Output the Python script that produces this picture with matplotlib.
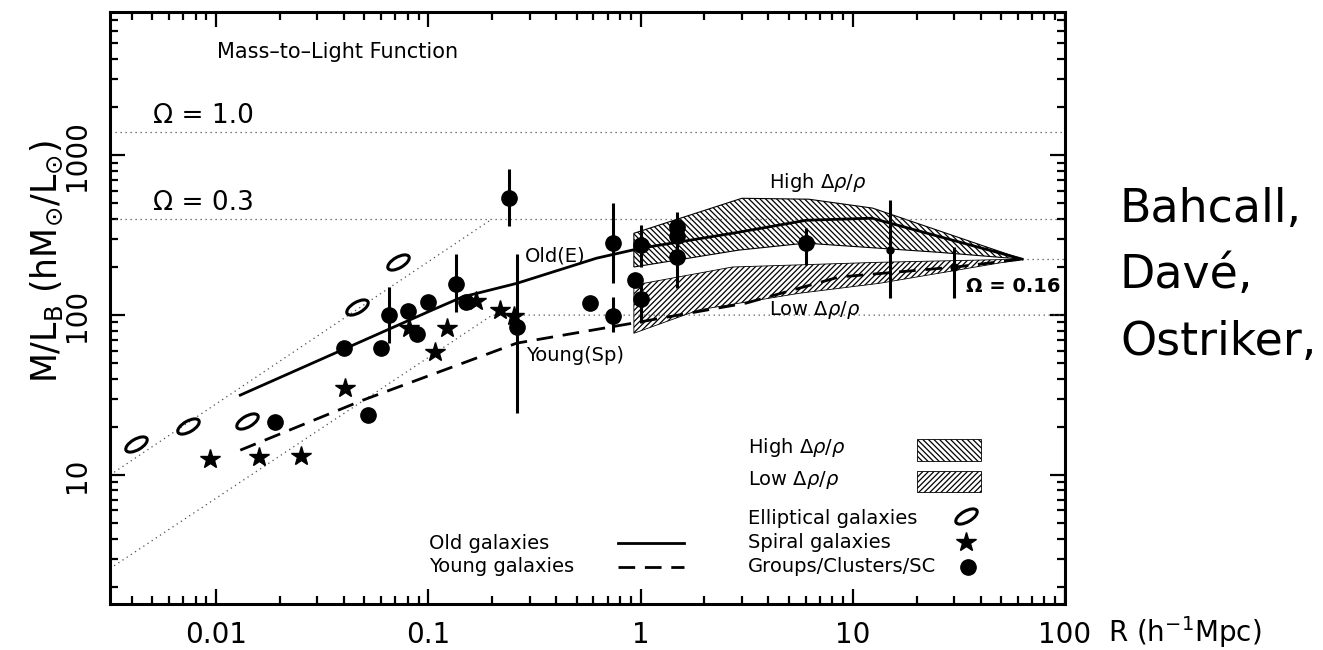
import numpy as np
import matplotlib.pyplot as plt
from matplotlib.path import Path
from matplotlib.patches import Polygon, Rectangle
from matplotlib.transforms import Affine2D
from matplotlib.ticker import LogLocator, NullFormatter, FixedLocator

plt.rcParams['hatch.linewidth'] = 0.9
plt.rcParams['mathtext.fontset'] = 'dejavusans'

# elliptical galaxies
ell_R = [0.0042, 0.0074, 0.0140, 0.046, 0.072]
ell_ML = [15.6, 20.2, 21.8, 112, 214]

# spiral galaxies
sp_R = [0.0094, 0.0159, 0.0251, 0.0405, 0.081, 0.108, 0.122, 0.167, 0.217, 0.252]
sp_ML = [12.6, 13.0, 13.2, 35, 83, 58.7, 83, 122, 107, 98.6]

# groups / clusters / superclusters (lo == hi == ML means no error bar)
grp_R = [0.019, 0.040, 0.052, 0.060, 0.065, 0.080, 0.088, 0.100, 0.135, 0.150,
         0.239, 0.261, 0.58, 0.74, 0.74, 0.94, 1.0, 1.0, 1.49, 1.49, 1.49, 6.0]
grp_ML = [21.4, 62, 23.7, 62, 100, 106, 76, 120, 156, 120,
          538, 84, 119, 282, 99, 166, 274, 126, 355, 312, 230, 282]
grp_lo = [21.4, 62, 23.7, 62, 67, 106, 76, 120, 104, 120,
          360, 24.4, 119, 158, 78, 166, 200, 89, 355, 312, 148, 205]
grp_hi = [21.4, 62, 23.7, 62, 150, 106, 76, 120, 240, 120,
          818, 240, 119, 501, 130, 166, 365, 160, 355, 312, 440, 350]

# large-scale points (small symbols)
ls_R = [15.0, 30.0]
ls_ML = [255, 200]
ls_lo = [128, 128]
ls_hi = [524, 266]

# model curves
old_R = [0.013, 0.1016, 0.145, 0.261, 0.62, 1.0, 2.71, 6.04, 12.3, 62.8]
old_ML = [31.6, 106, 130, 158, 227, 262, 325, 392, 404, 224]
young_R = [0.013, 0.0492, 0.261, 0.917, 3.15, 8.6, 30.6, 62.8]
young_ML = [14.3, 29.4, 66.8, 89, 119, 173, 200, 224]

# hatched bands
high_up_R = [0.93, 3.0, 6.2, 12.4, 62.8]
high_up_ML = [325, 538, 531, 467, 224]
high_lo_R = [0.93, 2.9, 6.0, 25.5, 62.8]
high_lo_ML = [200, 255, 282, 247, 224]
low_up_R = [0.93, 2.71, 13.3, 62.8]
low_up_ML = [154, 200, 214, 224]
low_lo_R = [0.93, 1.89, 5.6, 13.3, 62.8]
low_lo_ML = [77, 108, 137, 158, 224]

# envelope (dotted) lines
omega_ML = [1400, 400]
env_up_R = [10**-2.5, 0.2]
env_up_ML = [10, 400]
env_lo_R = [10**-2.5, 0.2, 100]
env_lo_ML = [2.6, 100, 100]
om16_R = [62.8, 100]
om16_ML = [224, 224]

fig = plt.figure(figsize=(13.23, 6.5), dpi=100)
ax = fig.add_axes([110/1323, 46/650, 955/1323, 592/650])
ax.set_xscale('log')
ax.set_yscale('log')
ax.set_xlim(10**-2.5, 100)
ax.set_ylim(1.56, 7870)

dot = dict(color='0.3', lw=0.9, ls=(0, (1, 3)))
for m in omega_ML:
    ax.axhline(m, **dot)
ax.plot(env_up_R, env_up_ML, **dot)
ax.plot(env_lo_R, env_lo_ML, **dot)
ax.plot(om16_R, om16_ML, **dot)

# hatched bands
high = Polygon(np.column_stack([high_up_R + high_lo_R[::-1], high_up_ML + high_lo_ML[::-1]]),
               facecolor='none', edgecolor='black', lw=0.8, hatch='\\' * 6)
low = Polygon(np.column_stack([low_up_R + low_lo_R[::-1], low_up_ML + low_lo_ML[::-1]]),
              facecolor='none', edgecolor='black', lw=0.6, hatch='/' * 6)
ax.add_patch(high)
ax.add_patch(low)

ax.plot(old_R, old_ML, color='black', lw=2.0)
ax.plot(young_R, young_ML, color='black', lw=2.0, ls=(0, (6, 3.5)))

ell_marker = Path.unit_circle().transformed(Affine2D().scale(1.0, 0.45).rotate_deg(30))
ax.plot(ell_R, ell_ML, ls='none', marker=ell_marker, ms=16, mfc='none', mec='black', mew=2.2)
ax.plot(sp_R, sp_ML, ls='none', marker='*', ms=15, color='black')

grp_ML_a = np.array(grp_ML)
yerr = [grp_ML_a - np.array(grp_lo), np.array(grp_hi) - grp_ML_a]
ax.errorbar(grp_R, grp_ML, yerr=yerr, fmt='o', ms=11, color='black', elinewidth=2.2, capsize=0)
ls_ML_a = np.array(ls_ML)
ax.errorbar(ls_R, ls_ML, yerr=[ls_ML_a - np.array(ls_lo), np.array(ls_hi) - ls_ML_a],
            fmt='o', ms=5, color='black', elinewidth=2.2, capsize=0)

# labels inside the plot
ax.text(0.0101, 4400, 'Mass\u2013to\u2013Light Function', fontsize=15, va='center')
ax.text(0.00505, 1750, '\u03a9 = 1.0', fontsize=19, va='center')
ax.text(0.00505, 500, '\u03a9 = 0.3', fontsize=19, va='center')
ax.text(4.05, 678, r'High $\Delta\rho/\rho$', fontsize=14, va='center')
ax.text(4.05, 107, r'Low $\Delta\rho/\rho$', fontsize=14, va='center')
ax.text(34.2, 150, '\u03a9 = 0.16', fontsize=14, va='center', fontweight='bold')
ax.text(0.284, 234, 'Old(E)', fontsize=14, va='center')
ax.text(0.288, 56, 'Young(Sp)', fontsize=14, va='center')

# legend drawn by hand (axes fraction)
tr = ax.transAxes
ax.text(0.668, 0.265, r'High $\Delta\rho/\rho$', fontsize=14, va='center', transform=tr)
ax.text(0.668, 0.209, r'Low $\Delta\rho/\rho$', fontsize=14, va='center', transform=tr)
ax.add_patch(Rectangle((0.845, 0.2416), 0.067, 0.037, transform=tr, facecolor='none',
                       edgecolor='black', lw=0.6, hatch='\\' * 6))
ax.add_patch(Rectangle((0.845, 0.1892), 0.067, 0.035, transform=tr, facecolor='none',
                       edgecolor='black', lw=0.6, hatch='/' * 6))
leg_labels = ['Elliptical galaxies', 'Spiral galaxies', 'Groups/Clusters/SC']
leg_y = [0.1436, 0.1047, 0.0625]
for lab, yy in zip(leg_labels, leg_y):
    ax.text(0.668, yy, lab, fontsize=14, va='center', transform=tr)
ax.plot([0.896], [leg_y[0] + 0.005], transform=tr, marker=ell_marker, ms=16, mfc='none',
        mec='black', mew=2.2, ls='none')
ax.plot([0.896], [leg_y[1]], transform=tr, marker='*', ms=15, color='black', ls='none')
ax.plot([0.898], [leg_y[2]], transform=tr, marker='o', ms=11, color='black', ls='none')

ax.text(0.334, 0.103, 'Old galaxies', fontsize=14, va='center', transform=tr)
ax.text(0.334, 0.0625, 'Young galaxies', fontsize=14, va='center', transform=tr)
ax.plot([0.532, 0.601], [0.103, 0.103], transform=tr, color='black', lw=2.0)
ax.plot([0.532, 0.601], [0.0625, 0.0625], transform=tr, color='black', lw=2.0, ls=(0, (6, 3.5)))

# axes styling
for s in ax.spines.values():
    s.set_linewidth(2.2)
ax.xaxis.set_major_locator(FixedLocator([0.01, 0.1, 1, 10, 100]))
ax.set_xticklabels(['0.01', '0.1', '1', '10', '100'])
ax.yaxis.set_major_locator(FixedLocator([10, 100, 1000]))
ax.set_yticklabels(['10', '100', '1000'], rotation=90, va='center')
ax.xaxis.set_minor_locator(LogLocator(base=10, subs=np.arange(2, 10)))
ax.yaxis.set_minor_locator(LogLocator(base=10, subs=np.arange(2, 10)))
ax.xaxis.set_minor_formatter(NullFormatter())
ax.yaxis.set_minor_formatter(NullFormatter())
ax.tick_params(which='both', direction='in', top=True, right=True, width=1.6)
ax.tick_params(which='major', length=11)
ax.tick_params(which='minor', length=6)
ax.tick_params(axis='x', which='major', labelsize=20, pad=12)
ax.tick_params(axis='y', which='major', labelsize=20, pad=14)

fig.text(47/1323, 1 - 262/650, r'M/L$_{\rm B}$ (hM$_{\odot}$/L$_{\odot}$)', rotation=90,
         fontsize=25, ha='center', va='center')
fig.text(1108/1323, 1 - 642/650, r'R (h$^{-1}$Mpc)', fontsize=20, ha='left', va='baseline')

for name, yb in zip(['Bahcall,', 'Dav\u00e9,', 'Ostriker,'], [222, 288, 355]):
    fig.text(1120/1323, 1 - yb/650, name, fontsize=33, ha='left', va='baseline')

fig.savefig('out.png', dpi=100)
